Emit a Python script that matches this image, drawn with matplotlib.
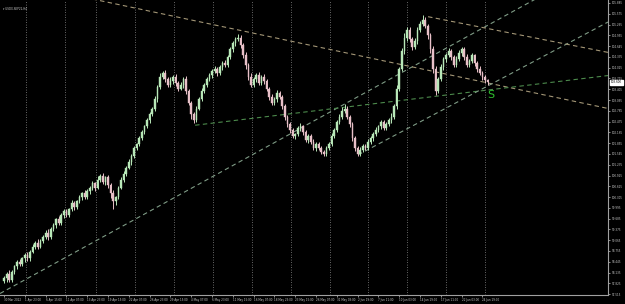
import numpy as np
import matplotlib
matplotlib.use("Agg")
import matplotlib.pyplot as plt
import matplotlib.transforms as mtransforms

# ---------------------------------------------------------------- data
symbol = "USDX-SEP22,H4"
first_open = 97.90

closes = [
    97.97, 98.09, 97.92, 98.14, 98.31, 98.43, 98.37, 98.54, 98.65, 98.54,
    98.74, 98.88, 98.99, 98.88, 99.05, 99.16, 99.28, 99.16, 99.39, 99.50,
    99.67, 99.56, 99.79, 99.90, 99.79, 99.96, 100.13, 100.01, 100.18, 100.30,
    100.41, 100.30, 100.47, 100.58, 100.70, 100.58, 100.81, 100.92, 100.75, 100.87,
    100.64, 100.41, 100.18, 100.30, 100.58, 100.81, 100.98, 101.15, 101.32, 101.49,
    101.72, 101.83, 102.00, 102.17, 102.34, 102.51, 102.68, 102.85, 103.13, 103.47,
    103.76, 103.87, 103.70, 103.53, 103.64, 103.76, 103.59, 103.42, 103.53, 103.70,
    103.36, 103.02, 102.68, 102.51, 102.85, 103.13, 103.36, 103.53, 103.70, 103.81,
    103.93, 103.98, 103.87, 104.04, 104.16, 104.10, 104.33, 104.55, 104.72, 104.84,
    104.89, 104.67, 104.38, 104.10, 103.76, 103.53, 103.70, 103.81, 103.59, 103.76,
    103.64, 103.42, 103.19, 103.02, 103.13, 103.30, 103.19, 102.91, 102.62, 102.40,
    102.23, 102.06, 102.11, 102.28, 102.34, 102.17, 101.94, 102.06, 101.89, 101.72,
    101.83, 101.72, 101.60, 101.55, 101.72, 101.83, 102.06, 102.23, 102.45, 102.62,
    102.79, 102.85, 102.62, 102.40, 102.00, 101.72, 101.55, 101.66, 101.77, 101.72,
    101.89, 102.00, 102.11, 102.23, 102.34, 102.45, 102.28, 102.40, 102.51, 102.62,
    102.91, 103.42, 103.98, 104.50, 104.89, 105.12, 104.84, 104.61, 104.78, 105.12,
    105.29, 105.40, 105.23, 104.95, 104.55, 103.98, 103.36, 103.70, 104.04, 104.27,
    104.38, 104.50, 104.33, 104.10, 104.27, 104.44, 104.55, 104.33, 104.10, 104.21,
    104.38, 104.16, 103.98, 103.87, 103.76, 103.66, 103.60,
]

wick_up = [
    0.08, 0.05, 0.12, 0.06, 0.04, 0.07, 0.10, 0.05, 0.06, 0.09,
    0.05, 0.07, 0.04, 0.10, 0.06, 0.05, 0.08, 0.11, 0.05, 0.06,
    0.04, 0.09, 0.05, 0.07, 0.06, 0.04, 0.08, 0.06, 0.05, 0.07,
    0.05, 0.10, 0.06, 0.04, 0.07, 0.05, 0.09, 0.06, 0.08, 0.05,
    0.07, 0.06, 0.10, 0.05, 0.04, 0.06, 0.08, 0.05, 0.07, 0.06,
    0.05, 0.04, 0.07, 0.06, 0.05, 0.08, 0.06, 0.05, 0.09, 0.07,
    0.10, 0.06, 0.08, 0.05, 0.12, 0.06, 0.07, 0.05, 0.09, 0.06,
    0.08, 0.06, 0.05, 0.07, 0.06, 0.05, 0.08, 0.06, 0.05, 0.07,
    0.06, 0.09, 0.05, 0.07, 0.06, 0.08, 0.05, 0.06, 0.07, 0.06,
    0.11, 0.08, 0.06, 0.09, 0.05, 0.10, 0.07, 0.06, 0.08, 0.05,
    0.07, 0.06, 0.05, 0.08, 0.06, 0.07, 0.05, 0.06, 0.08, 0.05,
    0.06, 0.07, 0.05, 0.06, 0.08, 0.05, 0.07, 0.06, 0.05, 0.07,
    0.05, 0.06, 0.04, 0.07, 0.05, 0.06, 0.08, 0.05, 0.07, 0.06,
    0.09, 0.12, 0.06, 0.05, 0.07, 0.05, 0.06, 0.08, 0.05, 0.06,
    0.07, 0.05, 0.06, 0.08, 0.05, 0.07, 0.06, 0.05, 0.07, 0.09,
    0.08, 0.10, 0.07, 0.09, 0.12, 0.06, 0.08, 0.07, 0.10, 0.08,
    0.09, 0.15, 0.08, 0.06, 0.07, 0.10, 0.09, 0.06, 0.08, 0.07,
    0.06, 0.09, 0.07, 0.05, 0.08, 0.10, 0.06, 0.07, 0.08, 0.06,
    0.07, 0.05, 0.06, 0.08, 0.05, 0.06, 0.05,
]

wick_dn = [
    0.06, 0.10, 0.05, 0.07, 0.05, 0.08, 0.06, 0.04, 0.09, 0.06,
    0.07, 0.05, 0.08, 0.06, 0.04, 0.07, 0.05, 0.09, 0.06, 0.05,
    0.08, 0.06, 0.05, 0.10, 0.06, 0.07, 0.05, 0.08, 0.06, 0.05,
    0.07, 0.06, 0.05, 0.08, 0.06, 0.09, 0.05, 0.07, 0.06, 0.10,
    0.08, 0.12, 0.22, 0.09, 0.06, 0.05, 0.07, 0.06, 0.05, 0.08,
    0.06, 0.05, 0.07, 0.05, 0.06, 0.04, 0.07, 0.05, 0.06, 0.08,
    0.06, 0.07, 0.09, 0.06, 0.05, 0.08, 0.10, 0.06, 0.05, 0.09,
    0.10, 0.08, 0.14, 0.07, 0.06, 0.05, 0.07, 0.06, 0.05, 0.06,
    0.07, 0.05, 0.08, 0.06, 0.07, 0.05, 0.06, 0.05, 0.07, 0.06,
    0.06, 0.08, 0.07, 0.10, 0.09, 0.06, 0.07, 0.08, 0.06, 0.07,
    0.08, 0.06, 0.09, 0.07, 0.06, 0.08, 0.07, 0.06, 0.09, 0.08,
    0.07, 0.06, 0.08, 0.05, 0.07, 0.09, 0.06, 0.08, 0.07, 0.05,
    0.08, 0.07, 0.06, 0.05, 0.07, 0.06, 0.05, 0.07, 0.06, 0.05,
    0.06, 0.07, 0.08, 0.09, 0.07, 0.08, 0.06, 0.05, 0.07, 0.06,
    0.05, 0.06, 0.07, 0.05, 0.06, 0.08, 0.05, 0.06, 0.05, 0.07,
    0.06, 0.08, 0.07, 0.06, 0.09, 0.10, 0.07, 0.08, 0.06, 0.07,
    0.06, 0.08, 0.07, 0.09, 0.10, 0.12, 0.11, 0.07, 0.06, 0.08,
    0.07, 0.06, 0.08, 0.07, 0.06, 0.05, 0.07, 0.08, 0.06, 0.07,
    0.06, 0.08, 0.07, 0.06, 0.08, 0.07, 0.06,
]

# time axis labels, one every 8 candles
time_labels = [
    "30 Mar 2022", "1 Apr 23:00", "6 Apr 15:00", "11 Apr 07:00", "13 Apr 23:00",
    "19 Apr 15:00", "22 Apr 07:00", "26 Apr 23:00", "29 Apr 15:00", "4 May 07:00",
    "6 May 23:00", "11 May 15:00", "16 May 07:00", "18 May 23:00", "23 May 15:00",
    "26 May 07:00", "31 May 03:00", "2 Jun 19:00", "7 Jun 11:00", "10 Jun 03:00",
    "14 Jun 19:00", "17 Jun 11:00", "22 Jun 03:00", "24 Jun 19:00",
]
label_every = 8

price_ticks = [
    105.885, 105.575, 105.265, 104.955, 104.645, 104.335, 104.025, 103.715,
    103.405, 103.095, 102.785, 102.475, 102.165, 101.855, 101.545, 101.235,
    100.925, 100.615, 100.305, 99.995, 99.685, 99.375, 99.065, 98.755,
    98.445, 98.135, 97.825, 97.515,
]

# weekly separators (candle index)
week_lines = [8.5, 23.5, 35.5, 50.5, 65.5, 80.5, 95.5, 110.5, 125.5, 140, 155, 170, 185]

# trend lines: (start, end, colour, extend_left)
trend_lines = [
    ((3.5, 97.74), (140.0, 103.35), "#7f9c86", True),
    ((39.6, 105.91), (185.8, 103.59), "#a39676", True),
    ((73.5, 102.37), (185.8, 103.38), "#4c8a4c", False),
    ((136.2, 101.52), (185.8, 103.49), "#7f9c86", False),
    ((163.1, 105.49), (231.2, 104.48), "#a39676", False),
]

# ---------------------------------------------------------------- figure
BG = "black"
FG = "#c8c8c8"
BULL = "#b8e8b8"
BEAR = "#e8c0c8"
FS = 2.0

fig = plt.figure(figsize=(6.25, 3.04), dpi=100, facecolor=BG)
ax = fig.add_axes([0.0, 9 / 304, 608 / 625, 295 / 304], facecolor=BG)

xmin, xmax = -1.54, 232.3
ymin, ymax = 97.49, 105.97
ax.set_xlim(xmin, xmax)
ax.set_ylim(ymin, ymax)

for wl in week_lines:
    ax.axvline(wl, color="#8a8a8a", lw=0.6, ls=(0, (1, 2)), zorder=1)

n = len(closes)
idx = np.arange(n)
c = np.array(closes)
o = np.array([first_open] + closes[:-1])
hi = np.maximum(o, c) + np.array(wick_up)
lo = np.minimum(o, c) - np.array(wick_dn)
up = c >= o
cols = np.where(up, BULL, BEAR)

ax.vlines(idx, lo, hi, colors=cols, lw=0.7, zorder=3)
body_h = np.abs(c - o)
body_h = np.maximum(body_h, 0.012)
ax.bar(idx, body_h, bottom=np.minimum(o, c), width=0.6,
       color=cols, edgecolor=cols, lw=0.3, zorder=4)

for (x1, y1), (x2, y2), col, ext_left in trend_lines:
    slope = (y2 - y1) / (x2 - x1)
    xs = xmin if ext_left else x1
    ax.plot([xs, xmax], [y1 + slope * (xs - x1), y1 + slope * (xmax - x1)],
            color=col, lw=0.8, ls=(0, (4, 3)), zorder=2)

ax.text(187.2, 103.25, "S", color="#2ec02e", fontsize=8, ha="center", va="center",
        zorder=5)

# axes styling
for side in ["top", "left"]:
    ax.spines[side].set_visible(False)
for side in ["right", "bottom"]:
    ax.spines[side].set_color("#a0a0a0")
    ax.spines[side].set_linewidth(0.8)

ax.yaxis.tick_right()
ax.set_yticks(price_ticks)
ax.set_yticklabels(["%.3f" % p for p in price_ticks])
ax.tick_params(axis="y", colors=FG, labelsize=FS, length=1.5, width=0.5, pad=1.2)

tick_pos = [i * label_every for i in range(len(time_labels))]
ax.set_xticks(tick_pos)
ax.set_xticklabels(time_labels, ha="left")
ax.tick_params(axis="x", colors=FG, labelsize=FS, length=1.5, width=0.5, pad=1)

# current price marker
trans = mtransforms.blended_transform_factory(ax.transAxes, ax.transData)
ax.text(1.005, closes[-1], "%.3f" % closes[-1], transform=trans, fontsize=FS,
        color="black", va="center", ha="left",
        bbox=dict(boxstyle="square,pad=0.25", fc="white", ec="white"), zorder=6)

fig.text(0.005, 0.978, "\u25be " + symbol, color=FG, fontsize=FS,
         ha="left", va="top")

fig.savefig("out.png", dpi=100, facecolor=BG)
